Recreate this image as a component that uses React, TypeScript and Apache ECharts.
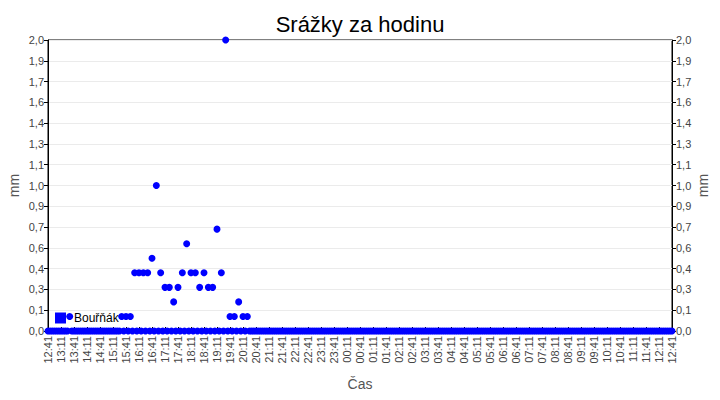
import React, { useEffect, useRef } from 'react'
import * as echarts from 'echarts'

// 5-minute samples from 12:41 to 12:41 the next day (one row = one hour)
const startHour = 12
const startMinute = 41
const stepMinutes = 5

const rainfall: number[] = [
    0, 0, 0, 0, 0, 0, 0, 0, 0, 0, 0.1, 0,
    0, 0, 0, 0, 0, 0, 0, 0, 0, 0, 0, 0,
    0, 0, 0, 0, 0, 0, 0, 0, 0, 0, 0.1, 0,
    0.1, 0, 0.1, 0, 0.4, 0, 0.4, 0, 0.4, 0, 0.4, 0,
    0.5, 0, 1.0, 0, 0.4, 0, 0.3, 0, 0.3, 0, 0.2, 0,
    0.3, 0, 0.4, 0, 0.6, 0, 0.4, 0, 0.4, 0, 0.3, 0,
    0.4, 0, 0.3, 0, 0.3, 0, 0.7, 0, 0.4, 0, 2.0, 0,
    0.1, 0, 0.1, 0, 0.2, 0, 0.1, 0, 0.1, 0, 0, 0,
    0, 0, 0, 0, 0, 0, 0, 0, 0, 0, 0, 0,
    0, 0, 0, 0, 0, 0, 0, 0, 0, 0, 0, 0,
    0, 0, 0, 0, 0, 0, 0, 0, 0, 0, 0, 0,
    0, 0, 0, 0, 0, 0, 0, 0, 0, 0, 0, 0,
    0, 0, 0, 0, 0, 0, 0, 0, 0, 0, 0, 0,
    0, 0, 0, 0, 0, 0, 0, 0, 0, 0, 0, 0,
    0, 0, 0, 0, 0, 0, 0, 0, 0, 0, 0, 0,
    0, 0, 0, 0, 0, 0, 0, 0, 0, 0, 0, 0,
    0, 0, 0, 0, 0, 0, 0, 0, 0, 0, 0, 0,
    0, 0, 0, 0, 0, 0, 0, 0, 0, 0, 0, 0,
    0, 0, 0, 0, 0, 0, 0, 0, 0, 0, 0, 0,
    0, 0, 0, 0, 0, 0, 0, 0, 0, 0, 0, 0,
    0, 0, 0, 0, 0, 0, 0, 0, 0, 0, 0, 0,
    0, 0, 0, 0, 0, 0, 0, 0, 0, 0, 0, 0,
    0, 0, 0, 0, 0, 0, 0, 0, 0, 0, 0, 0,
    0, 0, 0, 0, 0, 0, 0, 0, 0, 0, 0, 0,
    0,
]

const times: string[] = rainfall.map((_, i) => {
    const total = startHour * 60 + startMinute + i * stepMinutes
    const h = Math.floor(total / 60) % 24
    const m = total % 60
    return `${String(h).padStart(2, '0')}:${String(m).padStart(2, '0')}`
})

const seriesName = 'Bouřňák'
const yMin = 0
const yMax = 2
const yStep = 1 / 7
const labelEvery = 5 // show every 6th sample = every 30 minutes

const font = 'Liberation Sans, Arial, sans-serif'
const fmt = (v: number) => v.toFixed(1).replace('.', ',')

const App: React.FC = () => {
    const chartRef = useRef<HTMLDivElement>(null)

    useEffect(() => {
        const chart = echarts.init(chartRef.current, null, { renderer: 'svg' })

        const yAxisBase = {
            type: 'value',
            min: yMin,
            max: yMax,
            interval: yStep,
            name: 'mm',
            nameLocation: 'middle',
            nameRotate: 90,
            nameMoveOverlap: false,
            nameTextStyle: { color: '#555', fontSize: 14, fontFamily: font },
            axisLine: { show: true, lineStyle: { color: '#000', width: 1 } },
            axisTick: { show: true, length: 4, lineStyle: { color: '#000' } },
            axisLabel: { color: '#444', fontSize: 11, fontFamily: font, margin: 4, formatter: fmt },
        }

        const option = {
            animation: false,
            title: {
                text: 'Srážky za hodinu',
                left: 'center',
                top: 8,
                textStyle: { fontSize: 22, fontWeight: 'normal', color: '#000', fontFamily: font },
            },
            legend: {
                left: 50,
                top: 307,
                itemWidth: 11,
                itemHeight: 11,
                itemGap: 4,
                icon: 'rect',
                data: [seriesName],
                textStyle: { color: '#000', fontSize: 12, fontFamily: font, padding: [0, 0, 0, 3] },
            },
            grid: {
                left: 48,
                right: 48,
                top: 40,
                bottom: 69,
                outerBoundsMode: 'none',
                show: true,
                borderColor: '#000',
                borderWidth: 1,
            },
            xAxis: {
                type: 'category',
                data: times,
                boundaryGap: false,
                name: 'Čas',
                nameLocation: 'middle',
                nameGap: 46,
                nameMoveOverlap: false,
                nameTextStyle: { color: '#555', fontSize: 14, fontFamily: font },
                axisLine: { lineStyle: { color: '#000' } },
                axisTick: { show: true, inside: true, interval: labelEvery, length: 4, lineStyle: { color: '#000' } },
                axisLabel: { interval: labelEvery, rotate: 90, color: '#444', fontSize: 11, fontFamily: font, margin: 5 },
                splitLine: { show: false },
            },
            yAxis: [
                {
                    ...yAxisBase,
                    position: 'left',
                    nameGap: 27,
                    splitLine: { show: true, lineStyle: { color: '#ebebeb' } },
                },
                {
                    ...yAxisBase,
                    position: 'right',
                    nameGap: 24,
                    splitLine: { show: false },
                },
            ],
            series: [
                {
                    name: seriesName,
                    type: 'scatter',
                    data: rainfall,
                    symbol: 'circle',
                    symbolSize: 7,
                    itemStyle: { color: '#0000ff', opacity: 1 },
                },
            ],
        }

        chart.setOption(option)

        return () => {
            chart.dispose()
        }
    }, [])

    return <div ref={chartRef} style={{ width: '720px', height: '400px', margin: '-8px' }} />
}

export default App
